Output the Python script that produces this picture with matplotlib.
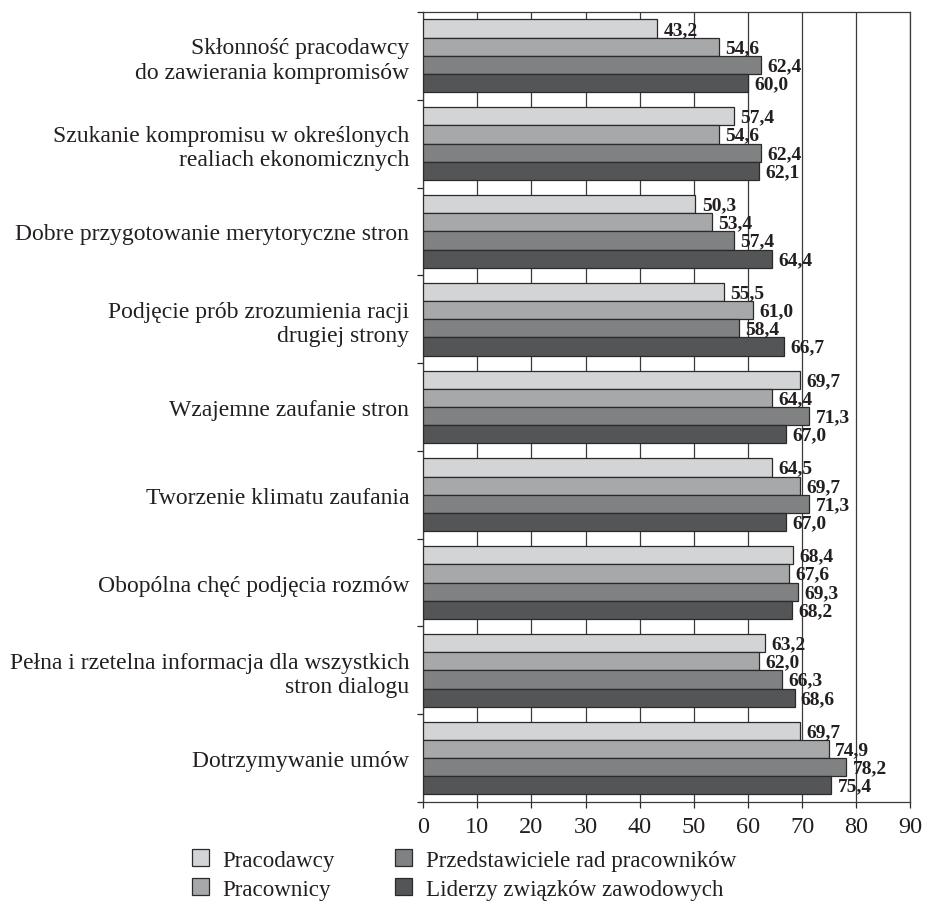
import numpy as np
import matplotlib.pyplot as plt
from matplotlib.patches import Patch

plt.rcParams['font.family'] = ['Liberation Serif', 'DejaVu Serif']

categories = [
    'Skłonność pracodawcy\ndo zawierania kompromisów',
    'Szukanie kompromisu w określonych\nrealiach ekonomicznych',
    'Dobre przygotowanie merytoryczne stron',
    'Podjęcie prób zrozumienia racji\ndrugiej strony',
    'Wzajemne zaufanie stron',
    'Tworzenie klimatu zaufania',
    'Obopólna chęć podjęcia rozmów',
    'Pełna i rzetelna informacja dla wszystkich\nstron dialogu',
    'Dotrzymywanie umów',
]
series = ['Pracodawcy', 'Pracownicy', 'Przedstawiciele rad pracowników',
          'Liderzy związków zawodowych']

pracodawcy      = [43.2, 57.4, 50.3, 55.5, 69.7, 64.5, 68.4, 63.2, 69.7]
pracownicy      = [54.6, 54.6, 53.4, 61.0, 64.4, 69.7, 67.6, 62.0, 74.9]
przedstawiciele = [62.4, 62.4, 57.4, 58.4, 71.3, 71.3, 69.3, 66.3, 78.2]
liderzy         = [60.0, 62.1, 64.4, 66.7, 67.0, 67.0, 68.2, 68.6, 75.4]

colors = ['#d3d4d6', '#a7a8aa', '#808183', '#545557']
ink = '#231f20'

values = [pracodawcy, pracownicy, przedstawiciele, liderzy]
n = len(categories)
bh = 0.207

fig = plt.figure(figsize=(9.28, 9.04), dpi=100)
ax = fig.add_axes([0.456, 0.1117, 0.525, 0.874])

centers = np.arange(n) + 0.5
for j, vals in enumerate(values):
    y = centers + (j - 1.5) * bh
    bars = ax.barh(y, vals, height=bh, color=colors[j], edgecolor='#2a2a2a',
                   linewidth=0.9, zorder=3, label=series[j])
    for b, v in zip(bars, vals):
        ax.annotate(f'{v:.1f}'.replace('.', ','),
                    (v, b.get_y() + b.get_height() / 2),
                    xytext=(4.5, -0.5), textcoords='offset points',
                    ha='left', va='center', fontsize=14,
                    fontweight='bold', color=ink, zorder=5)

ax.set_xlim(0, 90)
ax.set_ylim(n, 0)
ax.set_xticks(np.arange(0, 91, 10))
ax.set_yticks(centers)
ax.set_yticklabels(categories)
ax.set_yticks(np.arange(n + 1), minor=True)
ax.tick_params(axis='y', which='major', length=0, pad=10, labelsize=17,
               labelcolor=ink)
ax.tick_params(axis='y', which='minor', length=4, width=0.9, color='#2a2a2a')
ax.tick_params(axis='x', length=4, width=0.9, pad=6, labelsize=17.5,
               labelcolor=ink, color='#2a2a2a')

ax.grid(axis='x', color='#3a3a3a', linewidth=0.9, zorder=0)
ax.set_axisbelow(True)
for s in ax.spines.values():
    s.set_color('#3a3a3a')
    s.set_linewidth(0.9)

handles = [Patch(facecolor=c, edgecolor='#2a2a2a', linewidth=0.9) for c in colors]
fig.legend(handles, series,
           loc='lower left', bbox_to_anchor=(0.189, -0.0145), ncol=2,
           frameon=False, fontsize=16.6, handlelength=0.75, handleheight=0.75,
           handletextpad=0.6, columnspacing=2.6, labelspacing=0.33,
           borderpad=0.2, labelcolor=ink)

fig.savefig('out.png', dpi=100)
